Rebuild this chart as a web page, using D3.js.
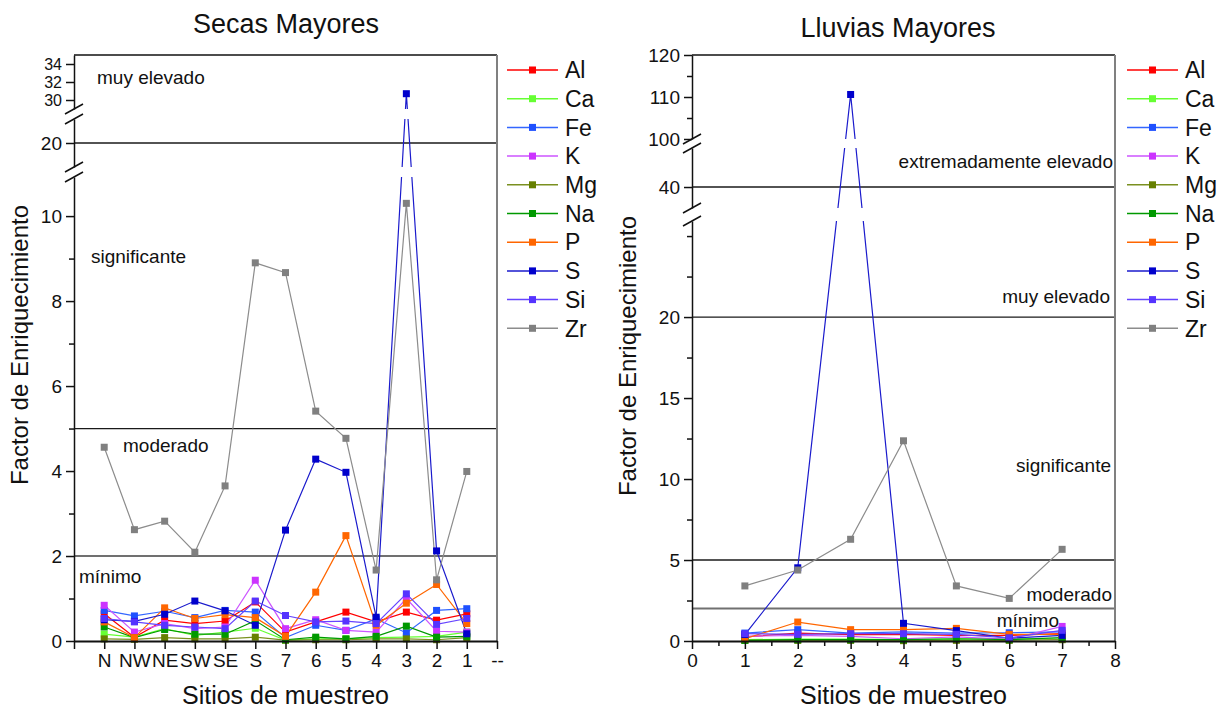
<!DOCTYPE html>
<html>
<head>
  <meta charset="utf-8">
  <title>Factor de Enriquecimiento</title>
  <script src="https://d3js.org/d3.v7.min.js"></script>
  <style>
    body { margin: 0; background: #fff; }
    svg { font-family: "Liberation Sans", Arial, sans-serif; }
  </style>
</head>
<body>
<div id="chart"></div>
<script>
// elementos y colores (orden de la leyenda)
var elements = ["Al", "Ca", "Fe", "K", "Mg", "Na", "P", "S", "Si", "Zr"];
var markColors = ["#ff0000", "#66ff33", "#1e50ff", "#cc33ff", "#668000", "#009900", "#ff6600", "#0000cc", "#5533ff", "#808080"];
var lineColors = ["#ff0000", "#66ff33", "#3366ff", "#cc55ff", "#7a9020", "#009900", "#ff6600", "#1a1acc", "#6644ff", "#8c8c8c"];

// Secas Mayores
var sitesSecas = ["N", "NW", "NE", "SW", "SE", "S", "7", "6", "5", "4", "3", "2", "1", "--"];
var secasAl = [0.64, 0.09, 0.49, 0.41, 0.47, 0.92, 0.21, 0.45, 0.68, 0.45, 0.68, 0.49, 0.64];
var secasCa = [0.16, 0.09, 0.29, 0.13, 0.21, 0.30, 0.02, 0.05, 0.05, 0.08, 0.09, 0.11, 0.21];
var secasFe = [0.72, 0.59, 0.70, 0.55, 0.72, 0.68, 0.08, 0.37, 0.25, 0.52, 0.19, 0.72, 0.76];
var secasK  = [0.84, 0.21, 0.41, 0.29, 0.33, 1.43, 0.29, 0.50, 0.25, 0.21, 1.00, 0.23, 0.21];
var secasMg = [0.05, 0.04, 0.08, 0.05, 0.05, 0.09, 0.02, 0.03, 0.03, 0.05, 0.05, 0.03, 0.08];
var secasNa = [0.33, 0.08, 0.27, 0.16, 0.16, 0.48, 0.03, 0.09, 0.05, 0.11, 0.35, 0.09, 0.11];
var secasP  = [0.45, 0.08, 0.78, 0.53, 0.62, 0.55, 0.11, 1.15, 2.48, 0.37, 0.89, 1.33, 0.41];
var secasS  = [0.50, 0.46, 0.63, 0.94, 0.71, 0.37, 2.61, 4.28, 3.97, 0.56, 30.7, 2.12, 0.17];
var secasSi = [0.53, 0.45, 0.37, 0.33, 0.29, 0.94, 0.60, 0.45, 0.47, 0.41, 1.11, 0.39, 0.53];
var secasZr = [4.56, 2.62, 2.82, 2.09, 3.65, 8.90, 8.67, 5.41, 4.77, 1.67, 10.3, 1.44, 3.99];

// Lluvias Mayores (sitios 1..7)
var sitesLluvias = [1, 2, 3, 4, 5, 6, 7];
var lluviasAl = [0.25, 0.49, 0.39, 0.41, 0.35, 0.35, 0.45];
var lluviasCa = [0.08, 0.12, 0.12, 0.08, 0.12, 0.14, 0.12];
var lluviasFe = [0.49, 0.70, 0.49, 0.56, 0.49, 0.51, 0.56];
var lluviasK  = [0.29, 0.35, 0.29, 0.14, 0.25, 0.10, 0.90];
var lluviasMg = [0.04, 0.04, 0.04, 0.02, 0.04, 0.04, 0.08];
var lluviasNa = [0.04, 0.08, 0.08, 0.08, 0.14, 0.08, 0.21];
var lluviasP  = [0.14, 1.17, 0.70, 0.70, 0.78, 0.41, 0.41];
var lluviasS  = [0.40, 4.52, 110.6, 1.09, 0.64, 0.17, 0.35];
var lluviasSi = [0.45, 0.41, 0.45, 0.45, 0.41, 0.19, 0.66];
var lluviasZr = [3.40, 4.38, 6.28, 12.36, 3.40, 2.63, 5.66];

// niveles de enriquecimiento
var secasLevels = [2, 5, 20];
var secasLevelNames = ["mínimo", "moderado", "significante", "muy elevado"];
var lluviasLevels = [2, 5, 20, 40];
var lluviasLevelNames = ["mínimo", "moderado", "significante", "muy elevado", "extremadamente elevado"];

var secasSeries = [secasAl, secasCa, secasFe, secasK, secasMg, secasNa, secasP, secasS, secasSi, secasZr];
var lluviasSeries = [lluviasAl, lluviasCa, lluviasFe, lluviasK, lluviasMg, lluviasNa, lluviasP, lluviasS, lluviasSi, lluviasZr];

var svg = d3.select("#chart").append("svg")
  .attr("width", 1220)
  .attr("height", 708);

function drawChart(cfg) {
  var g = svg.append("g");
  var x = d3.scaleLinear().domain(cfg.xDomain).range([cfg.left, cfg.right]);
  var segs = cfg.segments.map(function (s) {
    return d3.scaleLinear().domain(s.domain).range(s.range);
  });
  function y(v) {
    for (var i = 0; i < segs.length; i++) {
      var d = segs[i].domain();
      if (v >= d[0] && v <= d[1]) return segs[i](v);
    }
    return segs[segs.length - 1](v);
  }
  var top = segs[segs.length - 1].range()[1];
  var bottom = segs[0].range()[0];

  // lineas de nivel
  cfg.levels.forEach(function (lv) {
    g.append("line")
      .attr("x1", cfg.left).attr("x2", cfg.right)
      .attr("y1", y(lv)).attr("y2", y(lv))
      .attr("stroke", lv == 2 ? "#707070" : "#1a1a1a")
      .attr("stroke-width", lv == 2 ? 2 : 1.3);
  });

  // series
  var line = d3.line()
    .x(function (d, i) { return x(i + 1); })
    .y(function (d) { return y(d); });
  cfg.series.forEach(function (vals, k) {
    g.append("path")
      .datum(vals)
      .attr("d", line)
      .attr("fill", "none")
      .attr("stroke", lineColors[k])
      .attr("stroke-width", 1.2);
  });

  // huecos de los cortes del eje
  for (var i = 0; i < segs.length - 1; i++) {
    var y0 = segs[i].range()[1], y1 = segs[i + 1].range()[0];
    g.append("rect")
      .attr("x", cfg.left + 1).attr("width", cfg.right - cfg.left - 2)
      .attr("y", y1).attr("height", y0 - y1)
      .attr("fill", "#fff");
  }

  cfg.series.forEach(function (vals, k) {
    g.selectAll(null)
      .data(vals)
      .enter().append("rect")
      .attr("x", function (d, i) { return x(i + 1) - 3.5; })
      .attr("y", function (d) { return y(d) - 3.5; })
      .attr("width", 7).attr("height", 7)
      .attr("fill", markColors[k]);
  });

  // marco
  g.append("line").attr("x1", cfg.left).attr("x2", cfg.right).attr("y1", top).attr("y2", top)
    .attr("stroke", "#111").attr("stroke-width", 1.5);
  g.append("line").attr("x1", cfg.right).attr("x2", cfg.right).attr("y1", top).attr("y2", bottom)
    .attr("stroke", "#808080").attr("stroke-width", 2);

  // eje x
  var xAxis = g.append("g")
    .attr("transform", "translate(0," + bottom + ")")
    .call(d3.axisBottom(x).tickValues(cfg.xTicks).tickFormat(cfg.xFormat)
      .tickSize(8).tickSizeOuter(0).tickPadding(5));
  xAxis.selectAll("text").attr("font-size", 19).attr("fill", "#111");
  if (cfg.xMinor) {
    g.append("g")
      .attr("transform", "translate(0," + bottom + ")")
      .call(d3.axisBottom(x).tickValues(cfg.xMinor).tickFormat("").tickSize(5).tickSizeOuter(0))
      .select(".domain").remove();
  }

  // eje y por segmentos
  segs.forEach(function (s, i) {
    var ax = g.append("g")
      .attr("transform", "translate(" + cfg.left + ",0)")
      .call(d3.axisLeft(s).tickValues(cfg.yTicks[i]).tickFormat(d3.format("d"))
        .tickSize(8).tickSizeOuter(0).tickPadding(4));
    ax.selectAll("text").attr("font-size", cfg.yFont[i]).attr("fill", "#111");
    if (cfg.yMinor[i].length) {
      g.append("g")
        .attr("transform", "translate(" + cfg.left + ",0)")
        .call(d3.axisLeft(s).tickValues(cfg.yMinor[i]).tickFormat("").tickSize(5).tickSizeOuter(0))
        .select(".domain").remove();
    }
  });
  g.selectAll(".domain, .tick line").attr("stroke", "#111").attr("stroke-width", 1.5);
  xAxis.select(".domain").attr("stroke-width", 2);

  // marcas de corte
  for (var j = 0; j < segs.length - 1; j++) {
    [segs[j].range()[1], segs[j + 1].range()[0]].forEach(function (yy) {
      g.append("line")
        .attr("x1", cfg.left - 9).attr("x2", cfg.left + 9)
        .attr("y1", yy + 5).attr("y2", yy - 5)
        .attr("stroke", "#111").attr("stroke-width", 1.5);
    });
  }

  // textos de niveles
  cfg.levelText.forEach(function (t, i) {
    g.append("text")
      .attr("x", t[0]).attr("y", t[1])
      .attr("text-anchor", cfg.levelAnchor)
      .attr("font-size", 19).attr("fill", "#111")
      .text(cfg.levelNames[i]);
  });

  // leyenda
  elements.forEach(function (el, k) {
    var ly = 70 + k * 28.7;
    g.append("line")
      .attr("x1", cfg.legendX).attr("x2", cfg.legendX + 51)
      .attr("y1", ly).attr("y2", ly)
      .attr("stroke", lineColors[k]).attr("stroke-width", 1.5);
    g.append("rect")
      .attr("x", cfg.legendX + 22).attr("y", ly - 3.5)
      .attr("width", 7).attr("height", 7)
      .attr("fill", markColors[k]);
    g.append("text")
      .attr("x", cfg.legendX + 58).attr("y", ly)
      .attr("dy", "0.36em")
      .attr("font-size", 23).attr("fill", "#111")
      .text(el);
  });

  // titulos
  g.append("text")
    .attr("x", cfg.titleX).attr("y", cfg.titleY)
    .attr("text-anchor", "middle").attr("font-size", 27).attr("fill", "#111")
    .text(cfg.title);
  g.append("text")
    .attr("x", (cfg.left + cfg.right) / 2).attr("y", 704)
    .attr("text-anchor", "middle").attr("font-size", 25).attr("fill", "#111")
    .text("Sitios de muestreo");
  g.append("text")
    .attr("transform", "translate(" + cfg.yTitleX + "," + cfg.yTitleY + ") rotate(-90)")
    .attr("text-anchor", "middle").attr("font-size", 24).attr("fill", "#111")
    .text("Factor de Enriquecimiento");
}

drawChart({
  title: "Secas Mayores", titleX: 286, titleY: 33,
  left: 74, right: 497,
  xDomain: [0, 14],
  xTicks: d3.range(0, 15),
  xFormat: function (d) { return d == 0 ? "" : sitesSecas[d - 1]; },
  xMinor: null,
  segments: [
    { domain: [0, 10.92], range: [641, 177] },
    { domain: [19, 21], range: [167, 119] },
    { domain: [29, 35], range: [109, 55] }
  ],
  yTicks: [[0, 2, 4, 6, 8, 10], [20], [30, 32, 34]],
  yMinor: [[1, 3, 5, 7, 9], [], []],
  yFont: [19, 19, 16],
  series: secasSeries,
  levels: secasLevels,
  levelNames: secasLevelNames,
  levelAnchor: "start",
  levelText: [[79, 583], [123, 452], [91, 263], [97, 84]],
  legendX: 507,
  yTitleX: 28, yTitleY: 345
});

drawChart({
  title: "Lluvias Mayores", titleX: 898, titleY: 37,
  left: 692, right: 1115,
  xDomain: [0, 8],
  xTicks: d3.range(0, 9),
  xFormat: d3.format("d"),
  xMinor: d3.range(0.5, 8, 1),
  segments: [
    { domain: [0, 25.93], range: [641, 221] },
    { domain: [35, 49.3], range: [208, 148] },
    { domain: [100, 120], range: [139, 55] }
  ],
  yTicks: [[0, 5, 10, 15, 20], [40], [100, 110, 120]],
  yMinor: [[2.5, 7.5, 12.5, 17.5, 22.5, 25], [], [105, 115]],
  yFont: [19, 19, 19],
  series: lluviasSeries,
  levels: lluviasLevels,
  levelNames: lluviasLevelNames,
  levelAnchor: "end",
  levelText: [[1059, 627], [1112, 601], [1111, 472], [1110, 303], [1113, 168]],
  legendX: 1127,
  yTitleX: 636, yTitleY: 356
});
</script>
</body>
</html>
